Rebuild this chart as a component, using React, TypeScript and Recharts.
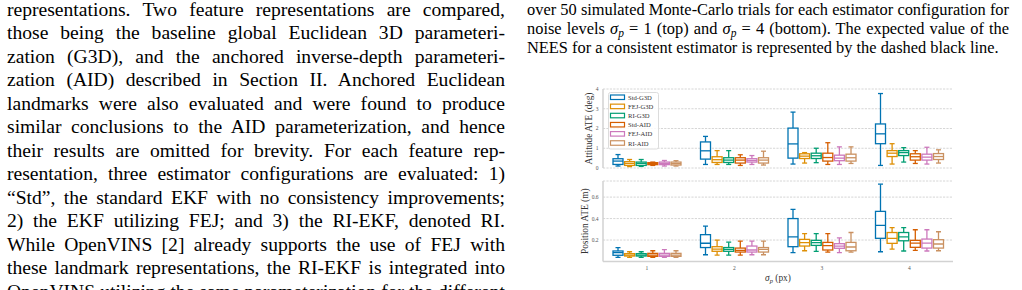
import React from "react";
import { ComposedChart, Bar, XAxis, YAxis, CartesianGrid, Legend, Label } from "recharts";

const FONT = "'Liberation Serif', 'Times New Roman', serif";
const FRAME = "#d2d2d2";
const GRID = "#d6d6d6";

const GROUPS = ["1", "2", "3", "4"];
const SERIES = ["Std-G3D", "FEJ-G3D", "RI-G3D", "Std-AID", "FEJ-AID", "RI-AID"];
const COLORS = ["#0173b2", "#de8f05", "#029e73", "#d55e00", "#cc78bc", "#ca9161"];

const ATT_TICKS = [0, 1, 2, 3, 4];
const POS_TICKS = [0.2, 0.4, 0.6];

// [low whisker, q1, median, q3, high whisker] for sigma_p = 1..4
const attStdG3D = [[0.1, 0.18, 0.35, 0.47, 0.68], [0.18, 0.45, 0.87, 1.32, 1.6], [0.2, 0.5, 1.22, 2.02, 2.83], [0.13, 1.23, 1.73, 2.23, 3.77]];
const attFejG3D = [[0.07, 0.13, 0.23, 0.32, 0.43], [0.18, 0.28, 0.42, 0.57, 0.88], [0.25, 0.48, 0.6, 0.72, 0.78], [0.2, 0.58, 0.75, 0.88, 1.23]];
const attRiG3D = [[0.08, 0.13, 0.23, 0.3, 0.43], [0.18, 0.28, 0.4, 0.52, 0.88], [0.27, 0.48, 0.62, 0.75, 1.0], [0.3, 0.63, 0.78, 0.88, 1.03]];
const attStdAid = [[0.13, 0.17, 0.22, 0.27, 0.3], [0.13, 0.25, 0.4, 0.52, 0.67], [0.18, 0.35, 0.53, 0.75, 1.28], [0.23, 0.4, 0.57, 0.72, 0.88]];
const attFejAid = [[0.1, 0.17, 0.23, 0.3, 0.38], [0.18, 0.3, 0.38, 0.47, 0.63], [0.18, 0.37, 0.5, 0.65, 1.07], [0.2, 0.4, 0.55, 0.7, 1.05]];
const attRiAid = [[0.1, 0.15, 0.22, 0.3, 0.37], [0.15, 0.25, 0.4, 0.52, 0.85], [0.23, 0.35, 0.52, 0.7, 1.07], [0.25, 0.43, 0.58, 0.73, 0.92]];

const posStdG3D = [[0.039, 0.058, 0.082, 0.098, 0.13], [0.063, 0.13, 0.17, 0.25, 0.33], [0.082, 0.138, 0.23, 0.4, 0.485], [0.091, 0.216, 0.337, 0.467, 0.72]];
const posFejG3D = [[0.039, 0.051, 0.06, 0.073, 0.091], [0.06, 0.095, 0.116, 0.138, 0.2], [0.1, 0.144, 0.175, 0.206, 0.26], [0.116, 0.169, 0.216, 0.27, 0.315]];
const posRiG3D = [[0.039, 0.051, 0.06, 0.073, 0.091], [0.06, 0.095, 0.113, 0.13, 0.18], [0.095, 0.15, 0.175, 0.197, 0.26], [0.098, 0.193, 0.23, 0.27, 0.315]];
const posStdAid = [[0.039, 0.048, 0.06, 0.076, 0.1], [0.06, 0.088, 0.104, 0.125, 0.19], [0.088, 0.107, 0.147, 0.178, 0.26], [0.104, 0.132, 0.172, 0.197, 0.296]];
const posFejAid = [[0.039, 0.048, 0.06, 0.076, 0.11], [0.063, 0.088, 0.107, 0.144, 0.19], [0.082, 0.123, 0.144, 0.166, 0.22], [0.098, 0.125, 0.172, 0.209, 0.296]];
const posRiAid = [[0.039, 0.048, 0.06, 0.076, 0.1], [0.063, 0.088, 0.113, 0.13, 0.19], [0.088, 0.1, 0.135, 0.178, 0.27], [0.1, 0.125, 0.163, 0.203, 0.277]];

const BODY_LINES = [
  "representations. Two feature representations are compared,",
  "those being the baseline global Euclidean 3D parameteri-",
  "zation (G3D), and the anchored inverse-depth parameteri-",
  "zation (AID) described in Section II. Anchored Euclidean",
  "landmarks were also evaluated and were found to produce",
  "similar conclusions to the AID parameterization, and hence",
  "their results are omitted for brevity. For each feature rep-",
  "resentation, three estimator configurations are evaluated: 1)",
  "\u201cStd\u201d, the standard EKF with no consistency improvements;",
  "2) the EKF utilizing FEJ; and 3) the RI-EKF, denoted RI.",
  "While OpenVINS [2] already supports the use of FEJ with",
  "these landmark representations, the RI-EKF is integrated into",
  "OpenVINS utilizing the same parameterization for the different",
];

function buildRows(series: number[][][]) {
  return GROUPS.map((g, gi) => {
    const row: any = { group: g };
    series.forEach((s, si) => {
      row["s" + si] = s[gi];
    });
    return row;
  });
}

const attRows = buildRows([attStdG3D, attFejG3D, attRiG3D, attStdAid, attFejAid, attRiAid]);
const posRows = buildRows([posStdG3D, posFejG3D, posRiG3D, posStdAid, posFejAid, posRiAid]);

function boxShape(key: string, color: string) {
  return (props: any) => {
    const { x, y, width, height, payload } = props;
    const [lo, q1, med, q3, hi] = payload[key];
    const top = Math.min(y, y + height);
    const h = Math.abs(height);
    const ppu = h / (q3 - q1);
    const cx = x + width / 2;
    const yHi = top - (hi - q3) * ppu;
    const yLo = top + h + (q1 - lo) * ppu;
    const yMed = top + (q3 - med) * ppu;
    const cap = width / 4;
    return (
      <g stroke={color} strokeWidth={1.3} fill="none">
        <line x1={cx} x2={cx} y1={yHi} y2={top} />
        <line x1={cx} x2={cx} y1={top + h} y2={yLo} />
        <line x1={cx - cap} x2={cx + cap} y1={yHi} y2={yHi} />
        <line x1={cx - cap} x2={cx + cap} y1={yLo} y2={yLo} />
        <rect x={x} y={top} width={width} height={h} fill="#fff" />
        <line x1={x} x2={x + width} y1={yMed} y2={yMed} />
      </g>
    );
  };
}

const yLabel = (text: string, dx: number) => (props: any) => {
  const vb = props.viewBox;
  const cx = vb.x + dx;
  const cy = vb.y + vb.height / 2;
  return (
    <text x={cx} y={cy} transform={`rotate(-90 ${cx} ${cy})`} textAnchor="middle" dominantBaseline="central"
      fontSize={9.4} fill="#333" fontFamily={FONT}>
      {text}
    </text>
  );
};

const xLabel = (props: any) => {
  const vb = props.viewBox;
  const cx = vb.x + vb.width / 2;
  const cy = vb.y + 16.5;
  return (
    <text x={cx} y={cy} textAnchor="middle" dominantBaseline="central" fontSize={9.4} fill="#333" fontFamily={FONT}>
      <tspan fontStyle="italic">σ</tspan>
      <tspan fontStyle="italic" fontSize={6.5} dy={2}>p</tspan>
      <tspan dy={-2}> (px)</tspan>
    </text>
  );
};

function LegendBox() {
  return (
    <svg width={52} height={58} style={{ display: "block" }}>
      <rect x={0.5} y={0.5} width={50} height={56.5} rx={2} fill="rgba(255,255,255,0.85)" stroke="#dcdcdc" />
      {SERIES.map((name, i) => (
        <g key={name}>
          <rect x={2.5} y={3 + i * 9.15} width={14} height={4.5} fill="#fff" stroke={COLORS[i]} strokeWidth={1.2} />
          <text x={20} y={5.3 + i * 9.15} dominantBaseline="central" fontSize={6.6} fill="#333" fontFamily={FONT}>
            {name}
          </text>
        </g>
      ))}
    </svg>
  );
}

function BoxPanel(props: { rows: any[]; domain: number[]; ticks: number[]; label: string; labelDx: number; bottom: boolean }) {
  const { rows, domain, ticks, label, labelDx, bottom } = props;
  const height = bottom ? 118 : 96;
  return (
    <ComposedChart width={390} height={height} data={rows} barSize={10} barGap={1.6}
      margin={{ top: 9, right: 7, bottom: bottom ? 8.5 : 8, left: 0 }}>
      <CartesianGrid vertical={false} stroke={GRID} strokeDasharray="2.2 1.2" />
      <XAxis dataKey="group" tickLine={false} tickSize={0} tickMargin={5} height={bottom ? 20 : 0}
        tick={bottom ? { fontSize: 5.5, fill: "#555", fontFamily: FONT } : false}
        axisLine={{ stroke: FRAME, strokeWidth: 1.5 }}>
        {bottom && <Label content={xLabel} />}
      </XAxis>
      <XAxis xAxisId="top" orientation="top" dataKey="group" tick={false} tickLine={false} height={0}
        axisLine={{ stroke: FRAME, strokeWidth: 1.5 }} />
      <YAxis type="number" domain={domain} ticks={ticks} width={33} tickLine={false} tickSize={0} tickMargin={4.5}
        interval={0} allowDataOverflow
        tick={{ fontSize: 5.5, fill: "#555", fontFamily: FONT }} axisLine={{ stroke: FRAME, strokeWidth: 1.5 }}>
        <Label content={yLabel(label, labelDx)} />
      </YAxis>
      <YAxis yAxisId="right" orientation="right" type="number" domain={domain} tick={false} tickLine={false}
        width={0} axisLine={{ stroke: FRAME, strokeWidth: 1.5 }} />
      {SERIES.map((name, i) => (
        <Bar key={name} name={name} dataKey={(r: any) => [r["s" + i][1], r["s" + i][3]]} fill={COLORS[i]}
          shape={boxShape("s" + i, COLORS[i])} isAnimationActive={false} />
      ))}
      {!bottom && (
        <Legend layout="vertical" align="center" verticalAlign="middle" content={() => <LegendBox />}
          wrapperStyle={{ position: "absolute", left: 37.5, top: 12, width: 52, height: 58 }} />
      )}
    </ComposedChart>
  );
}

function Sigma() {
  return (
    <span>
      <i>σ</i>
      <sub style={{ fontSize: "0.7em", verticalAlign: "-0.3em", lineHeight: 0 }}>
        <i>p</i>
      </sub>
    </span>
  );
}

const justify: React.CSSProperties = { textAlign: "justify", textAlignLast: "justify" };

export default function App() {
  return (
    <div style={{ position: "fixed", left: 0, top: 0, width: 1022, height: 290, overflow: "hidden", background: "#fff", color: "#000", fontFamily: FONT }}>
      <div style={{ position: "absolute", left: 7, top: -2.4, width: 498, fontSize: 19.6, lineHeight: "23.5px" }}>
        {BODY_LINES.map((l, i) => (
          <div key={i} style={{ ...justify, height: 23.5 }}>{l}</div>
        ))}
      </div>
      <div style={{ position: "absolute", left: 527, top: -0.1, width: 482, fontSize: 16.4, lineHeight: "19.2px" }}>
        <div style={{ ...justify, height: 19.2 }}>
          over 50 simulated Monte-Carlo trials for each estimator configuration for
        </div>
        <div style={{ ...justify, height: 19.2 }}>
          noise levels <Sigma /> = 1 (top) and <Sigma /> = 4 (bottom). The expected value of the
        </div>
        <div style={{ height: 19.2 }}>
          NEES for a consistent estimator is represented by the dashed black line.
        </div>
      </div>
      <div style={{ position: "absolute", left: 570, top: 172 }}>
        <BoxPanel rows={posRows} domain={[0, 0.75]} ticks={POS_TICKS} label="Position ATE (m)" labelDx={14.5} bottom={true} />
      </div>
      <div style={{ position: "absolute", left: 570, top: 80 }}>
        <BoxPanel rows={attRows} domain={[0, 4]} ticks={ATT_TICKS} label="Attitude ATE (deg)" labelDx={19} bottom={false} />
      </div>
    </div>
  );
}
